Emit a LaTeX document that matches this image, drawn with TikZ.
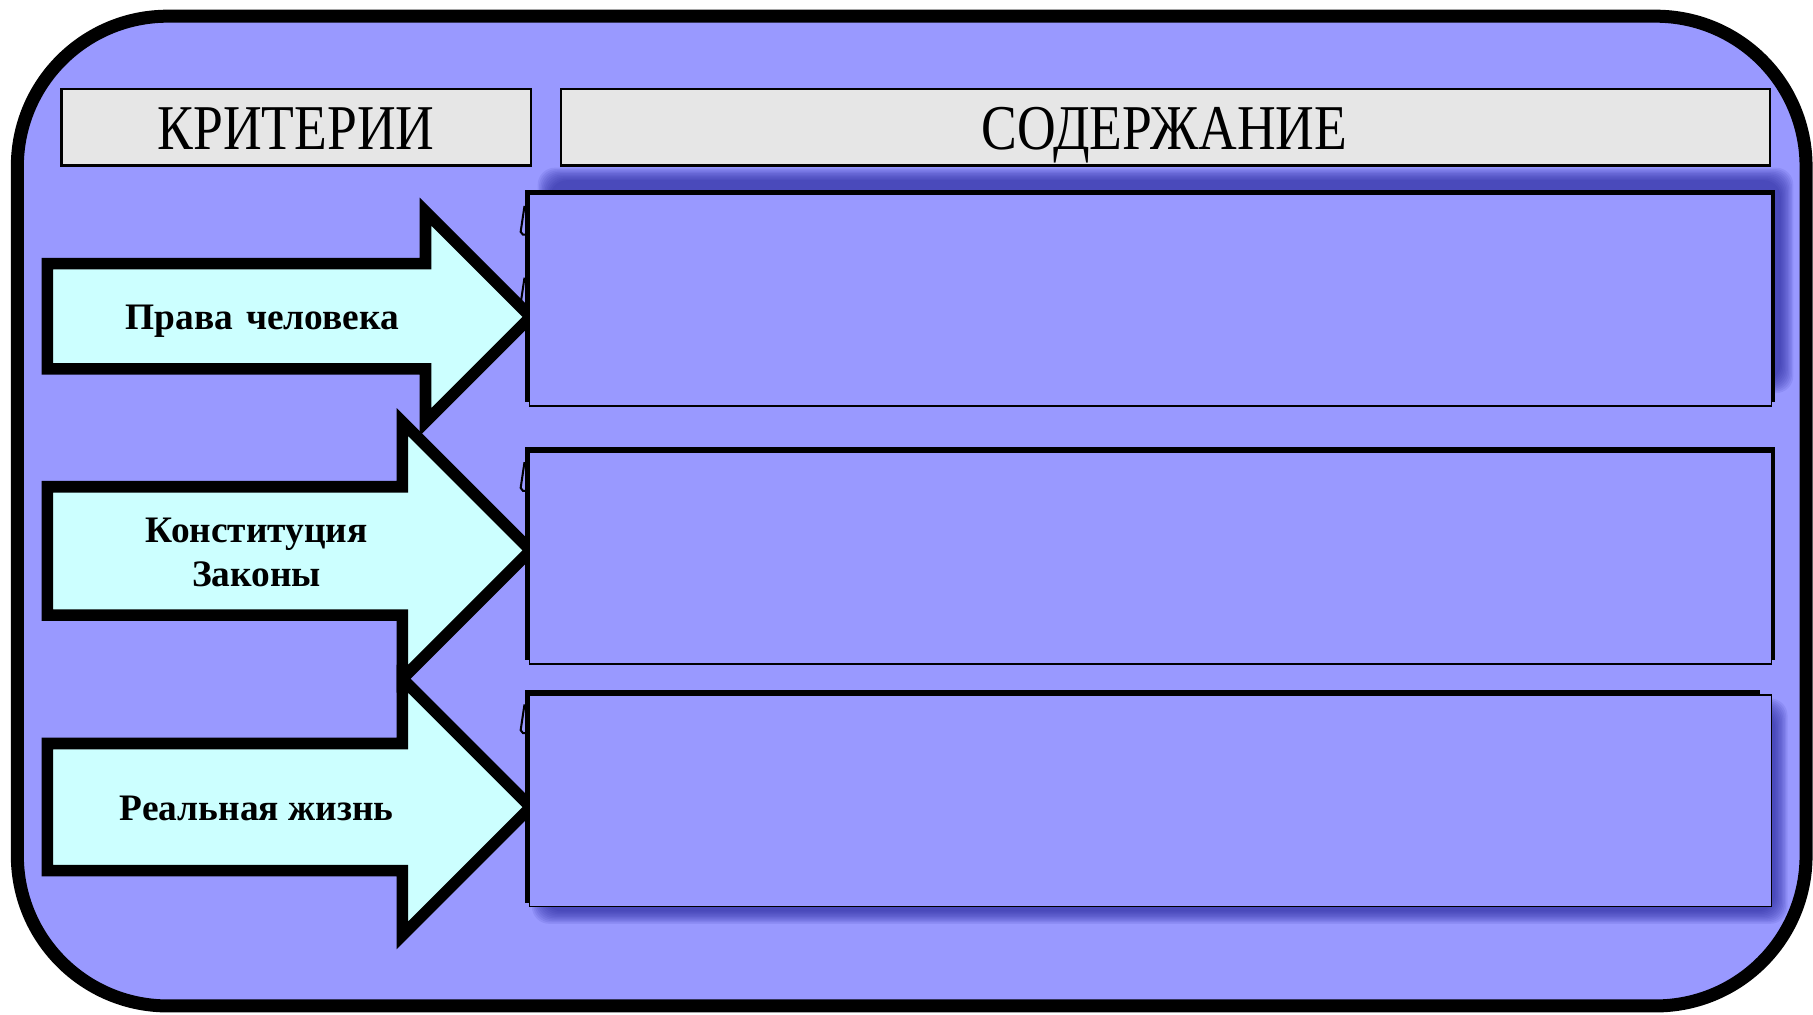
\documentclass[tikz,border=0pt]{standalone}
\usepackage{graphicx}
\usepackage{fontspec}
\setmainfont{Liberation Serif}

\definecolor{slidebg}{RGB}{153,153,255}
\definecolor{arrowcyan}{RGB}{204,255,255}
\definecolor{titlegray}{RGB}{230,230,230}
\definecolor{shadowblue}{RGB}{30,30,150}

\begin{document}
\begin{tikzpicture}[
    x=0.1mm, y=-0.1mm,
    frame/.style={draw=black, line width=3.2pt, fill=slidebg, rounded corners=13mm},
    title box/.style={draw=black, line width=0.6pt, fill=titlegray},
    title text/.style={font=\fontsize{15.7}{19}\selectfont, anchor=base},
    big arrow/.style={draw=black, line width=2.85pt, fill=arrowcyan, line join=miter},
    arrow text/.style={font=\bfseries\fontsize{9.2}{10.8}\selectfont, align=center},
    back box/.style={fill=black},
    answer box/.style={draw=black, line width=0.4pt, fill=slidebg},
    cursor mark/.style={draw=black, line width=0.5pt},
    soft shadow/.style={fill=shadowblue, opacity=0.09, rounded corners=1.5mm}
    ]
    % background
    \path[fill=white, use as bounding box] (0,0) rectangle (1568,877);
    \draw[frame] (15,14) rectangle (1562,870);

    % titles
    \draw[title box] (53,77) rectangle (459,143);
    \draw[title box] (485,77) rectangle (1531,143);
    \node[title text] (criteria) at (256,129) {\scalebox{0.84}[1]{КРИТЕРИИ}};
    \node[title text] (content) at (1007,129) {\scalebox{0.84}[1]{СОДЕРЖАНИЕ}};

    % shadows
    \foreach \k in {0,...,9} {
        \fill[soft shadow] ({465+1.2*\k},{145+1.2*\k}) rectangle ({1551-1.2*\k},{340-1.2*\k});
        \fill[soft shadow] ({460+1.2*\k},{604+1.2*\k}) rectangle ({1546-1.2*\k},{799-1.2*\k});
    }

    % marks
    \foreach \t in {179,241,400.5,610}
        \draw[cursor mark] (456,\t) -- (453.5,\t) -- (450.3,{\t+21.5}) -- (452.3,{\t+24}) -- (456,{\t+24});

    % arrows
    \draw[big arrow] (41,228) -- (368,228) -- (368,183) -- (459,274) -- (368,365) -- (368,319) -- (41,319) -- cycle;
    \draw[big arrow] (41,421) -- (348,421) -- (348,365) -- (459,476) -- (348,587) -- (348,532) -- (41,532) -- cycle;
    \draw[big arrow] (41,643) -- (348,643) -- (348,587) -- (459,698) -- (348,809) -- (348,753) -- (41,753) -- cycle;

    % boxes
    \fill[back box] (454,164) rectangle (1535,348);
    \draw[answer box] (458,168) rectangle (1532,351);
    \fill[back box] (454,387) rectangle (1535,571);
    \draw[answer box] (458,391) rectangle (1532,574);
    \fill[back box] (454,597) rectangle (1522,781);
    \draw[answer box] (458,601) rectangle (1532,784);

    % labels
    \node[arrow text, anchor=base] (rights) at (227,285) {Права\hspace{0.1em} человека};
    \node[arrow text] (laws) at (222,478) {Конституция\\Законы};
    \node[arrow text, anchor=base] (life) at (222,710) {Реальная жизнь};
\end{tikzpicture}
\end{document}
